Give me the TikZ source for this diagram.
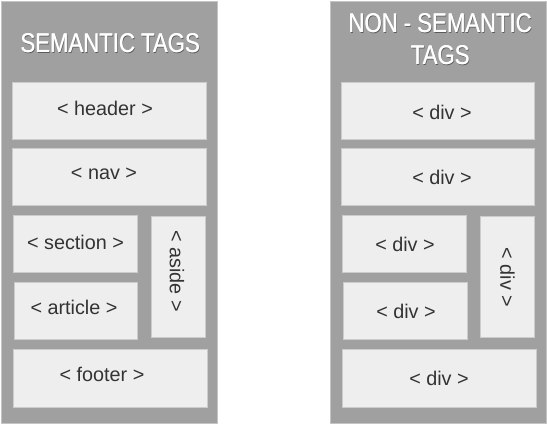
\documentclass[tikz,border=0pt]{standalone}
\usepackage{fontspec}
\setmainfont{Liberation Sans}
\definecolor{panelgray}{HTML}{A0A0A0}
\definecolor{panelline}{HTML}{C4C4C4}
\definecolor{boxfill}{HTML}{EEEEEE}
\definecolor{boxline}{HTML}{CCCCCC}
\definecolor{tagtext}{HTML}{333333}
\definecolor{shadowc}{HTML}{5A5A5A}
\newcommand{\narrowtitle}[1]{\scalebox{0.82}[1]{#1}}
\begin{document}
\begin{tikzpicture}[x=1pt,y=-1pt,
  panel/.style={draw=panelline, fill=panelgray, line width=1pt, anchor=north west, inner sep=0pt},
  tagbox/.style={draw=boxline, fill=boxfill, line width=1pt, anchor=north west, inner sep=0pt},
  tagtextstyle/.style={text=tagtext, font=\fontsize{19.8}{22}\selectfont, inner sep=0pt},
  titletext/.style={font=\fontsize{27}{32}\selectfont, align=center, inner sep=0pt}]
\useasboundingbox (0,0) rectangle (547,426);
\fill[white] (0,0) rectangle (547,426);
% panels
\node[panel, minimum width=216pt, minimum height=422pt] (leftpanel) at (1,1) {};
\node[panel, minimum width=216pt, minimum height=422pt] (rightpanel) at (329.5,1) {};
% titles (shadow, then white drawn twice for weight)
\node[titletext, text=shadowc] (lts) at (111,43.9) {\narrowtitle{SEMANTIC TAGS}};
\node[titletext, text=white] (lt1) at (110,43) {\narrowtitle{SEMANTIC TAGS}};
\node[titletext, text=white] (lt2) at (110.5,43) {\narrowtitle{SEMANTIC TAGS}};
\node[titletext, text=shadowc] (rts) at (441,40.4) {\narrowtitle{NON - SEMANTIC}\\\narrowtitle{TAGS}};
\node[titletext, text=white] (rt1) at (440,39.5) {\narrowtitle{NON - SEMANTIC}\\\narrowtitle{TAGS}};
\node[titletext, text=white] (rt2) at (440.5,39.5) {\narrowtitle{NON - SEMANTIC}\\\narrowtitle{TAGS}};
% left boxes
\node[tagbox, minimum width=194pt, minimum height=57pt] (headerbox) at (12,82) {};
\node[tagtextstyle] (header) at (105,108.5) {< header >};
\node[tagbox, minimum width=194pt, minimum height=57pt] (navbox) at (12,148) {};
\node[tagtextstyle] (nav) at (104,173.5) {< nav >};
\node[tagbox, minimum width=124pt, minimum height=57pt] (sectionbox) at (13,215) {};
\node[tagtextstyle] (section) at (75.5,242) {< section >};
\node[tagbox, minimum width=123pt, minimum height=57pt] (articlebox) at (14,282) {};
\node[tagtextstyle] (article) at (74,307) {< article >};
\node[tagbox, minimum width=54pt, minimum height=121pt] (asidebox) at (151,216) {};
\node[tagtextstyle, rotate=-90] (aside) at (177,271) {< aside >};
\node[tagbox, minimum width=194pt, minimum height=58pt] (footerbox) at (13,349) {};
\node[tagtextstyle] (footer) at (102,374.5) {< footer >};
% right boxes
\node[tagbox, minimum width=193pt, minimum height=57pt] (div1box) at (341,82) {};
\node[tagtextstyle] (div1) at (442,112) {< div >};
\node[tagbox, minimum width=193pt, minimum height=57pt] (div2box) at (341,148) {};
\node[tagtextstyle] (div2) at (442,177) {< div >};
\node[tagbox, minimum width=124pt, minimum height=57pt] (div3box) at (342,215) {};
\node[tagtextstyle] (div3) at (405,244.5) {< div >};
\node[tagbox, minimum width=124pt, minimum height=57pt] (div4box) at (343,282) {};
\node[tagtextstyle] (div4) at (406,311.5) {< div >};
\node[tagbox, minimum width=54pt, minimum height=121pt] (div5box) at (480,216) {};
\node[tagtextstyle, rotate=-90] (div5) at (507.5,277.5) {< div >};
\node[tagbox, minimum width=194pt, minimum height=58pt] (div6box) at (342,349) {};
\node[tagtextstyle] (div6) at (439,378) {< div >};
\end{tikzpicture}
\end{document}
